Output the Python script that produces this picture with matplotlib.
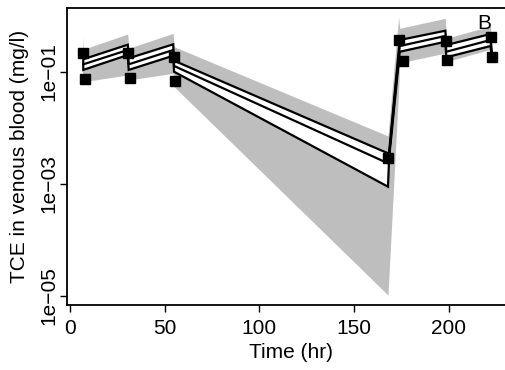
import numpy as np
import matplotlib
matplotlib.use("Agg")
import matplotlib.pyplot as plt

plt.rcParams['font.family'] = ['Liberation Sans', 'DejaVu Sans']

# model prediction: upper / median / lower lines (hr, mg/l)
t_line = [7, 30.5, 31, 54.5, 55, 168, 168.6, 174.2, 198.3, 198.8, 222.2, 222.8]
upper = [0.169, 0.307, 0.176, 0.312, 0.159, 0.00353, 0.00373, 0.373, 0.546, 0.303, 0.477, 0.209]
middle = [0.137, 0.247, 0.137, 0.247, 0.128, 0.00234, 0.00330, 0.291, 0.440, 0.230, 0.373, 0.193]
lower = [0.109, 0.201, 0.109, 0.195, 0.101, 0.000895, 0.00291, 0.230, 0.347, 0.183, 0.291, 0.178]

# wider grey interval
t_grey = [6.6, 7, 30.5, 31, 54.5, 55, 168, 173.6, 174.2, 198.3, 198.8, 222.2, 222.8]
grey_hi = [0.422, 0.254, 0.477, 0.265, 0.491, 0.283, 0.00720, 0.960, 0.603, 0.910, 0.400, 0.662, 0.247]
grey_lo = [0.0720, 0.0671, 0.0884, 0.0720, 0.0948, 0.0546, 1.04e-5, 0.0477, 0.145, 0.218, 0.153, 0.254, 0.164]

# observed data
t_obs = [6.7, 7.9, 30.8, 31.5, 54.9, 55.4, 168.1, 173.9, 175.7, 198.5, 199.4, 222.3, 223.2]
obs = [0.216, 0.075, 0.216, 0.079, 0.183, 0.070, 0.0029, 0.373, 0.159, 0.362, 0.164, 0.426, 0.183]

fig = plt.figure(figsize=(5.06, 3.70), dpi=100)
ax = fig.add_axes([0.1324, 0.1757, 0.885, 0.8027])

ax.fill_between(t_grey, grey_lo, grey_hi, color='#BEBEBE', lw=0)
poly_x = np.r_[t_line, t_line[::-1]]
poly_y = np.r_[upper, lower[::-1]]
ax.fill(poly_x, poly_y, facecolor='white', edgecolor='black', lw=1.6)
ax.plot(t_line, middle, color='black', lw=1.6)
ax.plot(t_obs, obs, 's', color='black', ms=6.5)

ax.text(219, 0.74, 'B', fontsize=15, ha='center', va='center')

ax.set_yscale('log')
ax.set_xlim(-1.6, 235)
ax.set_ylim(10**-5.161, 10**0.143)
ax.set_xticks([0, 50, 100, 150, 200])
ax.set_yticks([1e-5, 1e-3, 1e-1])
ax.set_yticklabels(['1e\u221205', '1e\u221203', '1e\u221201'], rotation=90, va='center')
ax.minorticks_off()
ax.tick_params(labelsize=15, length=5, width=1)
ax.tick_params(axis='x', pad=5)
ax.tick_params(axis='y', pad=1)
for s in ax.spines.values():
    s.set_linewidth(1.3)

ax.set_xlabel('Time (hr)', fontsize=15, labelpad=4)
ax.set_ylabel('TCE in venous blood (mg/l)', fontsize=15, labelpad=8)

fig.savefig('out.png', dpi=100)
